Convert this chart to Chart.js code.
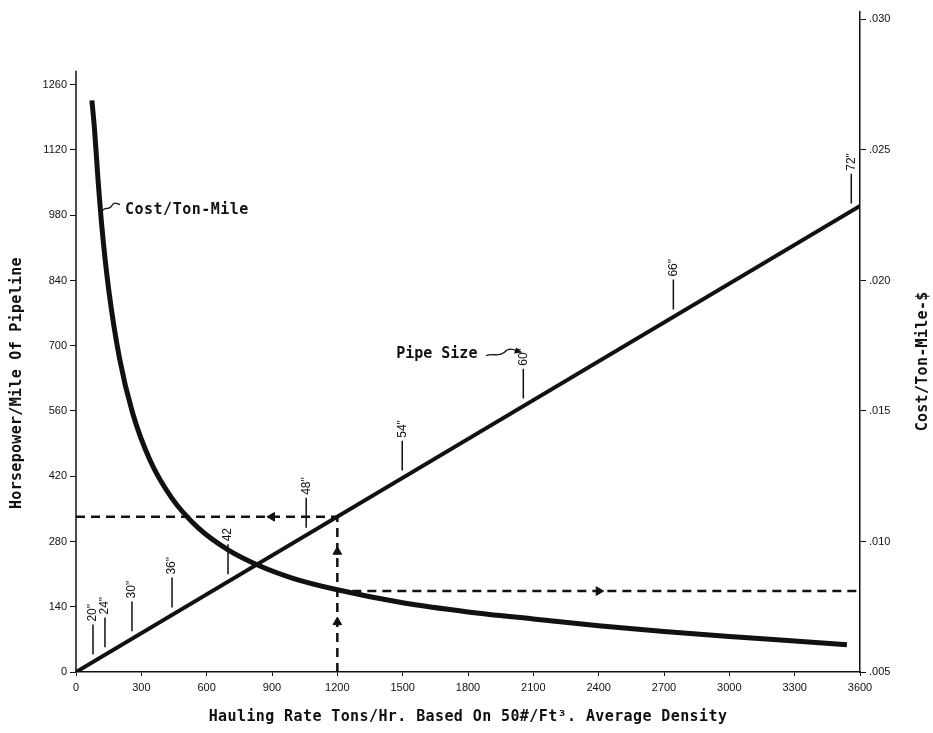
<!DOCTYPE html>
<html>
<head>
<meta charset="utf-8">
<script src="https://cdn.jsdelivr.net/npm/chart.js@4/dist/chart.umd.min.js"></script>
<style>
  html, body { margin: 0; padding: 0; background: #ffffff; }
  #wrap { width: 933px; height: 733px; }
</style>
</head>
<body>
<div id="wrap"><canvas id="c" width="933" height="733"></canvas></div>
<script>
// ---- data ----
const haulingRate = [73, 85, 100, 120, 150, 200, 260, 340, 440, 560, 700, 850, 1000, 1200, 1500, 1800, 2100, 2400, 2700, 3000, 3300, 3540];
const costPerTonMile = [0.0269, 0.0258, 0.0240, 0.02195, 0.01966, 0.01701, 0.01492, 0.01311, 0.01166, 0.01053, 0.00967, 0.00904, 0.00858, 0.00815, 0.00765, 0.0073, 0.00703, 0.00677, 0.00655, 0.00636, 0.00619, 0.00604];
const hpRate = [0, 3600];
const hpPerMile = [0, 1000];
const pipeSizes = ['20"', '24"', '30"', '36"', '42', '48"', '54"', '60"', '66"', '72"'];
const pipeSizeRate = [78, 133, 257, 441, 698, 1057, 1498, 2054, 2743, 3560];
const xTicks = [0, 300, 600, 900, 1200, 1500, 1800, 2100, 2400, 2700, 3000, 3300, 3600];
const hpTicks = [0, 140, 280, 420, 560, 700, 840, 980, 1120, 1260];
const costTicks = [0.005, 0.010, 0.015, 0.020, 0.025, 0.030];
const exampleRate = 1200;
const exampleHp = 333;
const exampleCost = 0.0081;
const xTitle = 'Hauling Rate Tons/Hr. Based On 50#/Ft³. Average Density';
const yTitle = 'Horsepower/Mile Of Pipeline';
const y2Title = 'Cost/Ton-Mile-$';

// ---- derived ----
const HP_MAX = 1416;
const COST_MIN = 0.005;
const COST_MAX = COST_MIN + HP_MAX / 280 * 0.005;
const INK = '#111111';

function hpAt(x) {
  const t = (x - hpRate[0]) / (hpRate[1] - hpRate[0]);
  return hpPerMile[0] + t * (hpPerMile[1] - hpPerMile[0]);
}

const costData = haulingRate.map((x, i) => ({ x: x, y: costPerTonMile[i] }));
const hpData = hpRate.map((x, i) => ({ x: x, y: hpPerMile[i] }));
const pipeTickData = [];
pipeSizeRate.forEach(x => {
  const h = hpAt(x);
  pipeTickData.push({ x: x, y: h + 16 });
  pipeTickData.push({ x: x, y: h + 80 });
  pipeTickData.push({ x: x, y: null });
});

const tickFont = { family: 'Liberation Sans', size: 11 };
const titleFont = 'bold 15px "DejaVu Sans Mono"';

function setSpacing(ctx, v) { if ('letterSpacing' in ctx) ctx.letterSpacing = v; }

const annotations = {
  id: 'annotations',
  afterDatasetsDraw(chart) {
    const ctx = chart.ctx;
    const xs = chart.scales.x, ys = chart.scales.y, y2 = chart.scales.y2;
    const area = chart.chartArea;
    ctx.save();
    // left axis line (stops a little above top tick)
    ctx.strokeStyle = INK;
    ctx.lineWidth = 1.5;
    ctx.beginPath();
    ctx.moveTo(area.left, ys.getPixelForValue(0));
    ctx.lineTo(area.left, ys.getPixelForValue(1290));
    ctx.stroke();

    // pipe size labels
    ctx.fillStyle = INK;
    ctx.font = '12px "Liberation Sans"';
    pipeSizes.forEach((lab, i) => {
      const px = xs.getPixelForValue(pipeSizeRate[i]);
      const py = ys.getPixelForValue(hpAt(pipeSizeRate[i]) + 80) - 3;
      ctx.save();
      ctx.translate(px, py);
      ctx.rotate(-Math.PI / 2);
      ctx.textAlign = 'left';
      ctx.textBaseline = 'middle';
      ctx.fillText(lab, 0, 0);
      ctx.restore();
    });

    // "Cost/Ton-Mile" callout
    ctx.font = 'bold 15px "DejaVu Sans Mono"';
    ctx.textAlign = 'left';
    ctx.textBaseline = 'middle';
    setSpacing(ctx, '0.5px');
    const cx = xs.getPixelForValue(225), cy = ys.getPixelForValue(990);
    ctx.fillText('Cost/Ton-Mile', cx, cy);
    ctx.lineWidth = 1.3;
    ctx.beginPath();
    ctx.moveTo(cx - 24, cy + 2);
    ctx.bezierCurveTo(cx - 20, cy - 6, cx - 16, cy + 1, cx - 13, cy - 5);
    ctx.bezierCurveTo(cx - 11, cy - 9, cx - 8, cy - 7, cx - 5, cy - 6);
    ctx.stroke();

    // "Pipe Size" callout
    setSpacing(ctx, '0px');
    const sx = xs.getPixelForValue(1470), sy = ys.getPixelForValue(681);
    ctx.fillText('Pipe Size', sx, sy);
    ctx.beginPath();
    ctx.moveTo(sx + 90, sy + 1);
    ctx.bezierCurveTo(sx + 98, sy - 2, sx + 102, sy + 3, sx + 108, sy - 2);
    ctx.bezierCurveTo(sx + 112, sy - 7, sx + 116, sy - 6, sx + 120, sy - 4);
    ctx.stroke();
    ctx.beginPath();
    ctx.moveTo(sx + 126, sy - 2);
    ctx.lineTo(sx + 118, sy - 1);
    ctx.lineTo(sx + 120, sy - 7);
    ctx.closePath();
    ctx.fill();

    // axis titles
    ctx.font = titleFont;
    ctx.textAlign = 'center';
    ctx.textBaseline = 'middle';
    setSpacing(ctx, '0.4px');
    ctx.fillText(xTitle, (area.left + area.right) / 2, 717);

    ctx.save();
    ctx.translate(17, ys.getPixelForValue(620));
    ctx.rotate(-Math.PI / 2);
    setSpacing(ctx, '0.3px');
    ctx.fillText(yTitle, 0, 0);
    ctx.restore();

    ctx.save();
    ctx.translate(923, y2.getPixelForValue(0.0169));
    ctx.rotate(-Math.PI / 2);
    setSpacing(ctx, '0.3px');
    ctx.fillText(y2Title, 0, 0);
    ctx.restore();

    ctx.restore();
  }
};

new Chart(document.getElementById('c'), {
  type: 'scatter',
  data: {
    datasets: [
      { label: 'Horsepower', data: hpData, yAxisID: 'y', showLine: true,
        borderColor: INK, borderWidth: 4, pointRadius: 0, borderCapStyle: 'butt' },
      { label: 'Cost/Ton-Mile', data: costData, yAxisID: 'y2', showLine: true,
        borderColor: INK, borderWidth: 5, pointRadius: 0, cubicInterpolationMode: 'monotone' },
      { label: 'hp guide', data: [{ x: 0, y: exampleHp }, { x: exampleRate, y: exampleHp }], yAxisID: 'y',
        showLine: true, borderColor: INK, borderWidth: 2.5, borderDash: [9, 6], pointRadius: 0 },
      { label: 'rate guide', data: [{ x: exampleRate, y: 0 }, { x: exampleRate, y: exampleHp }], yAxisID: 'y',
        showLine: true, borderColor: INK, borderWidth: 2.5, borderDash: [9, 6], pointRadius: 0 },
      { label: 'cost guide', data: [{ x: exampleRate, y: exampleCost }, { x: 3600, y: exampleCost }], yAxisID: 'y2',
        showLine: true, borderColor: INK, borderWidth: 2.5, borderDash: [9, 6], pointRadius: 0 },
      { label: 'arrows hp', data: [{ x: 900, y: exampleHp }, { x: exampleRate, y: 258 }, { x: exampleRate, y: 107 }], yAxisID: 'y',
        showLine: false, pointStyle: 'triangle', pointRadius: 5, pointRotation: [-90, 0, 0],
        backgroundColor: INK, borderColor: INK, borderWidth: 1 },
      { label: 'arrow cost', data: [{ x: 2400, y: exampleCost }], yAxisID: 'y2',
        showLine: false, pointStyle: 'triangle', pointRadius: 5, pointRotation: 90,
        backgroundColor: INK, borderColor: INK, borderWidth: 1 },
      { label: 'pipe ticks', data: pipeTickData, yAxisID: 'y', showLine: true, spanGaps: false,
        borderColor: INK, borderWidth: 1.5, pointRadius: 0 }
    ]
  },
  options: {
    responsive: false,
    animation: false,
    devicePixelRatio: 1,
    layout: { padding: { top: 12, left: 0, right: 0, bottom: 0 } },
    plugins: { legend: { display: false }, tooltip: { enabled: false }, title: { display: false } },
    scales: {
      x: {
        type: 'linear', min: 0, max: 3600,
        afterBuildTicks: s => { s.ticks = xTicks.map(v => ({ value: v })); },
        afterFit: s => { s.height = 61; },
        grid: { drawOnChartArea: false, drawTicks: true, tickLength: 4, color: INK, lineWidth: 1 },
        border: { display: true, color: INK, width: 1.5 },
        ticks: { font: tickFont, color: INK, maxRotation: 0, padding: 5, autoSkip: false,
                 callback: v => String(v) },
        title: { display: false }
      },
      y: {
        type: 'linear', position: 'left', min: 0, max: HP_MAX,
        afterBuildTicks: s => { s.ticks = hpTicks.map(v => ({ value: v })); },
        afterFit: s => { s.width = 76; },
        grid: { drawOnChartArea: false, drawTicks: true, tickLength: 6, color: INK, lineWidth: 1 },
        border: { display: false },
        ticks: { font: tickFont, color: INK, padding: 3, autoSkip: false,
                 callback: v => String(v) },
        title: { display: false }
      },
      y2: {
        type: 'linear', position: 'right', min: COST_MIN, max: COST_MAX,
        afterBuildTicks: s => { s.ticks = costTicks.map(v => ({ value: v })); },
        afterFit: s => { s.width = 73; },
        grid: { drawOnChartArea: false, drawTicks: true, tickLength: 6, color: INK, lineWidth: 1 },
        border: { display: true, color: INK, width: 1.5 },
        ticks: { font: tickFont, color: INK, padding: 3, autoSkip: false,
                 callback: v => v.toFixed(3).replace(/^0/, '') },
        title: { display: false }
      }
    }
  },
  plugins: [annotations]
});
</script>
</body>
</html>
